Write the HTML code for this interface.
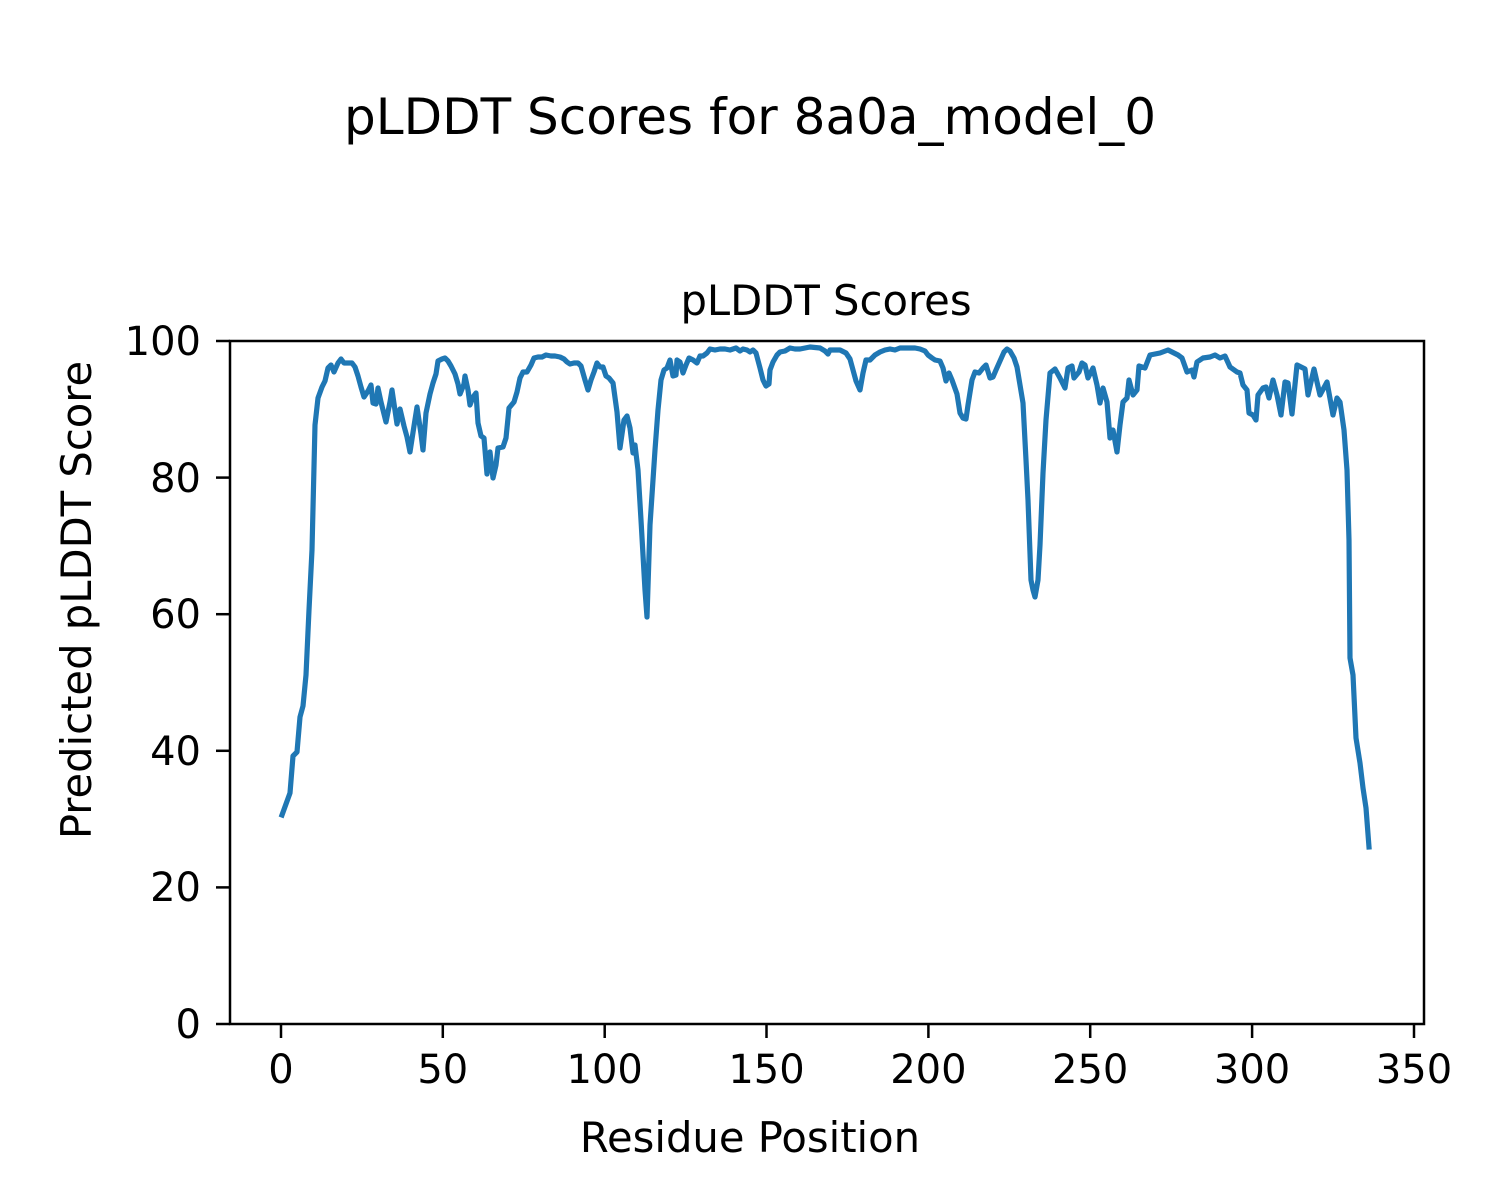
<!DOCTYPE html>
<html><head><meta charset="utf-8"><style>
html,body{margin:0;padding:0;background:#fff;}
svg{display:block;}
text{font-family:"DejaVu Sans","Liberation Sans",sans-serif;fill:#000;}
</style></head><body>
<svg width="1500" height="1200" viewBox="0 0 1500 1200" xmlns="http://www.w3.org/2000/svg">
<rect width="1500" height="1200" fill="#fff"/>
<text x="750" y="134" font-size="50" text-anchor="middle">pLDDT Scores for 8a0a_model_0</text>
<text x="826" y="315" font-size="41.7" text-anchor="middle">pLDDT Scores</text>
<polyline fill="none" stroke="#1f77b4" stroke-width="5.2" stroke-linejoin="round" stroke-linecap="square" points="
282,815 290,793 293,756 297,752 300,717 303,706 306,675 309,610 312,550 315,425 318,398 322,387 325,381 328,368 331,365 334,372 338,363 341,359 344,363 348,363 352,363 355,367 358,376 361,387 364,397 368,391 371,385 373,403 376,404 378,388 381,402 386,422 390,402 392,390 397,424 400,409 404,426 407,437 410,452 414,426 417,407 421,434 423,450 426,413 430,394 433,383 436,374 438,361 442,359 445,358 448,361 451,366 455,374 458,384 460,394 464,384 465,376 468,390 470,405 473,397 476,393 478,423 481,436 484,438 487,474 490,452 493,478 496,465 498,448 503,447 506,438 509,408 514,402 517,392 520,378 523,372 527,372 531,365 534,358 538,357 542,357 546,355 551,356 555,356 560,357 564,359 567,362 570,364 574,363 578,363 581,366 585,380 588,390 591,380 594,372 597,363 600,367 603,367 606,376 609,378 613,383 617,412 620,448 624,420 627,416 630,428 633,453 635,445 638,470 641,520 645,590 647,617 650,525 655,450 658,410 661,380 664,370 667,368 670,360 673,376 676,375 677,360 680,362 683,373 686,365 689,358 693,360 697,363 700,356 703,356 707,353 710,349 715,350 720,349 725,349 730,350 736,348 740,351 743,349 747,350 750,352 753,350 756,353 760,368 763,380 766,386 769,384 770,370 773,362 777,355 780,352 785,351 790,348 795,349 800,349 805,348 810,347 820,348 825,351 828,354 830,350 833,350 840,350 846,353 850,359 853,370 856,381 860,390 863,373 866,360 870,360 875,355 880,352 885,350 890,349 895,350 900,348 905,348 910,348 915,348 920,349 925,351 928,355 932,358 935,360 940,361 943,368 946,381 949,373 952,380 957,394 960,413 963,418 966,419 968,405 972,380 975,372 979,373 983,368 986,365 990,378 993,377 996,370 1000,361 1004,352 1007,349 1010,351 1014,358 1017,367 1020,385 1023,403 1026,460 1028,500 1031,580 1033,590 1035,597 1038,580 1040,545 1043,473 1046,420 1050,373 1055,369 1060,378 1065,388 1068,368 1072,366 1074,378 1079,372 1082,363 1085,365 1088,378 1093,368 1097,385 1100,403 1103,388 1107,402 1110,438 1113,430 1117,452 1120,425 1123,402 1127,398 1129,380 1133,395 1137,390 1139,366 1145,368 1150,355 1155,354 1160,353 1168,350 1178,355 1182,358 1187,372 1192,370 1194,377 1197,362 1203,358 1210,357 1215,355 1220,358 1225,356 1230,367 1237,372 1240,373 1243,385 1247,390 1249,413 1253,415 1256,420 1258,395 1263,388 1266,387 1269,398 1273,380 1277,395 1281,415 1285,382 1288,383 1292,414 1297,365 1305,369 1308,395 1314,369 1320,395 1327,382 1333,415 1337,398 1340,402 1344,430 1347,470 1349,540 1350,658 1353,675 1356,738 1360,763 1363,788 1366,808 1369,847"/>
<rect x="230" y="341" width="1194" height="683" fill="none" stroke="#000" stroke-width="2.5"/>
<g stroke="#000" stroke-width="2.5">
<line x1="216" y1="1024" x2="230" y2="1024"/>
<line x1="216" y1="887.4" x2="230" y2="887.4"/>
<line x1="216" y1="750.8" x2="230" y2="750.8"/>
<line x1="216" y1="614.2" x2="230" y2="614.2"/>
<line x1="216" y1="477.6" x2="230" y2="477.6"/>
<line x1="216" y1="341" x2="230" y2="341"/>
<line x1="281" y1="1024" x2="281" y2="1038"/>
<line x1="442.8" y1="1024" x2="442.8" y2="1038"/>
<line x1="604.7" y1="1024" x2="604.7" y2="1038"/>
<line x1="766.5" y1="1024" x2="766.5" y2="1038"/>
<line x1="928.4" y1="1024" x2="928.4" y2="1038"/>
<line x1="1090.2" y1="1024" x2="1090.2" y2="1038"/>
<line x1="1252.1" y1="1024" x2="1252.1" y2="1038"/>
<line x1="1414" y1="1024" x2="1414" y2="1038"/>
</g>
<g font-size="40" text-anchor="end">
<text x="201" y="1038">0</text>
<text x="201" y="901">20</text>
<text x="201" y="765">40</text>
<text x="201" y="628">60</text>
<text x="201" y="492">80</text>
<text x="201" y="355">100</text>
</g>
<g font-size="40" text-anchor="middle">
<text x="281" y="1083">0</text>
<text x="442.8" y="1083">50</text>
<text x="604.7" y="1083">100</text>
<text x="766.5" y="1083">150</text>
<text x="928.4" y="1083">200</text>
<text x="1090.2" y="1083">250</text>
<text x="1252.1" y="1083">300</text>
<text x="1414" y="1083">350</text>
</g>
<text x="750" y="1152" font-size="41.7" text-anchor="middle">Residue Position</text>
<text transform="translate(91,600) rotate(-90)" font-size="41.7" text-anchor="middle">Predicted pLDDT Score</text>
</svg>
</body></html>
